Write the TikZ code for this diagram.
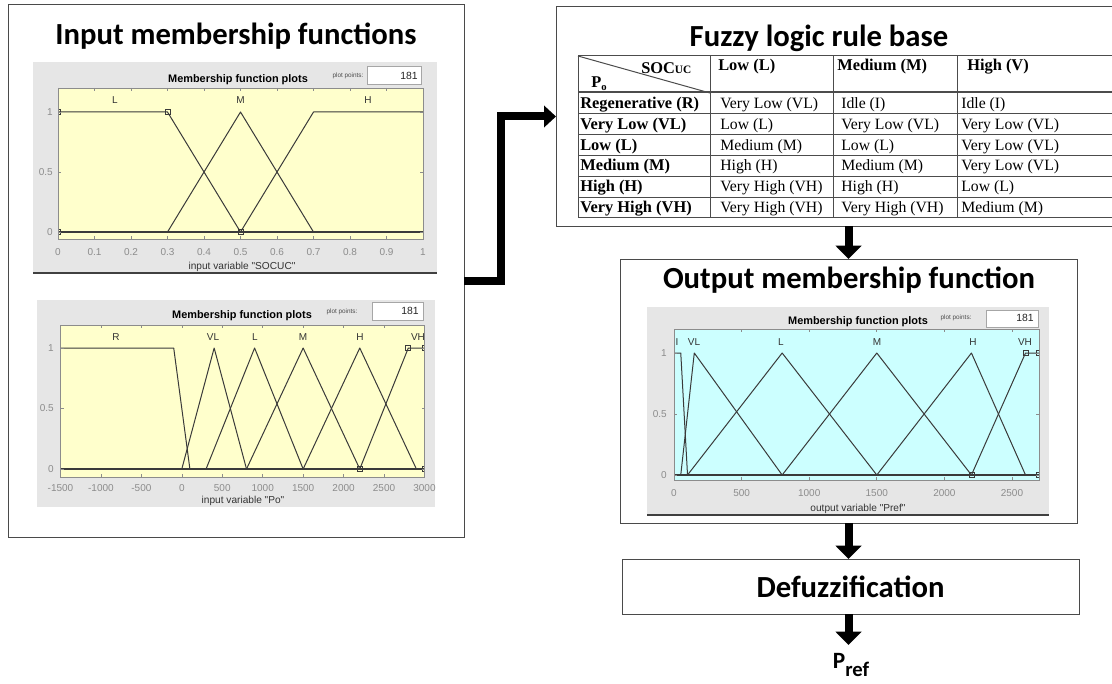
\documentclass[tikz,border=0pt]{standalone}
\usepackage{fontspec}
\setmainfont{Liberation Serif}
\newfontfamily\calib{Carlito}
\newfontfamily\mlab{Liberation Sans}
\usetikzlibrary{arrows.meta}
\definecolor{panelgrey}{HTML}{E6E6E6}
\definecolor{plotyel}{HTML}{FFFFCC}
\definecolor{plotcyan}{HTML}{CCFFFF}
\definecolor{mfline}{HTML}{3A3A3A}
\definecolor{ticklab}{HTML}{8C8C8C}
\definecolor{boxline}{HTML}{4A4A4A}
\tikzset{
 bigbox/.style={draw=boxline, line width=0.75pt, inner sep=0, outer sep=0},
 ttl/.style={font=\calib\bfseries\fontsize{23}{27}\selectfont, anchor=base, inner sep=0},
 mlttl/.style={font=\mlab\bfseries\fontsize{8.2}{9}\selectfont, inner sep=0, anchor=mid},
 mlpp/.style={font=\mlab\fontsize{4.8}{5.5}\selectfont, text=black!70, inner sep=0, anchor=mid},
 mlnum/.style={font=\mlab\fontsize{7.8}{9}\selectfont, text=black!85, inner sep=0, anchor=mid east},
 ppbox/.style={fill=white, draw=black!35, line width=0.5pt},
 ticklb/.style={font=\mlab\fontsize{7.5}{9}\selectfont, text=ticklab, inner sep=0, anchor=mid},
 ylb/.style={ticklb, anchor=mid east},
 axlb/.style={font=\mlab\fontsize{7.6}{9}\selectfont, text=black!80, inner sep=0, anchor=mid},
 mflb/.style={font=\mlab\fontsize{7.5}{9}\selectfont, text=black!80, inner sep=0, anchor=mid},
 mf/.style={draw=mfline, line width=0.75pt, line join=round},
 mfbase/.style={draw=mfline, line width=1.3pt},
 mk/.style={draw=mfline, line width=0.6pt, minimum size=3.8pt, inner sep=0, outer sep=0},
 axbox/.style={draw=black!45, line width=0.5pt},
 tk/.style={draw=black!45, line width=0.5pt},
 tabline/.style={draw=black!70, line width=0.75pt},
 rowhd/.style={font=\bfseries\fontsize{12.3}{14}\selectfont, anchor=base west, inner sep=0},
 cell/.style={font=\fontsize{11.8}{14}\selectfont, anchor=base west, inner sep=0},
 elbow/.style={line width=6pt, line join=miter, -{Triangle[length=9pt,width=16pt]}},
 varrow/.style={line width=6pt, -{Triangle[length=10pt,width=19pt]}},
}
\begin{document}
\begin{tikzpicture}[x=0.75pt,y=-0.75pt]
\useasboundingbox (0,0) rectangle (1112,684);
\fill[white] (0,0) rectangle (1112,684);

% ---------- main boxes ----------
\node[bigbox, minimum width=342pt, minimum height=399pt] (inbox) at (236,271) {};
\node[bigbox, minimum width=419.25pt, minimum height=164.25pt] (rulebox) at (835.5,116.5) {};
\node[bigbox, minimum width=342.75pt, minimum height=198pt] (outbox) at (848.5,391) {};
\node[bigbox, minimum width=342.75pt, minimum height=41.25pt, font=\calib\bfseries\fontsize{23}{27}\selectfont] (defuzz) at (850.5,586.5) {Defuzzification};
\node[inner sep=0, anchor=base, font=\calib\bfseries\fontsize{17.5}{21}\selectfont] (pref) at (851,668) {P\raisebox{-6.5pt}{\fontsize{15.5}{18}\selectfont ref}};

\node[ttl] (tin) at (236,45) {Input membership functions};
\node[ttl] (trule) at (819,47) {Fuzzy logic rule base};
\node[ttl] (tout) at (849,288) {Output membership function};

% ---------- connectors ----------
\draw[elbow] ([yshift=-7.5pt]inbox.east) -- ++(37,0) |- (rulebox.west);
\draw[varrow] (outbox.north |- rulebox.south) -- (outbox.north);
\draw[varrow] (outbox.south) -- (outbox.south |- defuzz.north);
\draw[varrow] (outbox.south |- defuzz.south) -- (outbox.south |- 0,645);

% ---------- top input plot (SOCUC) ----------
\fill[panelgrey] (33,62) rectangle (437,273);
\draw[black!75, line width=0.9pt] (33,273) -- (437,273);
\fill[plotyel] (58,88) rectangle (423,239);
\begin{scope}
\clip (58,88) rectangle (423,239);
\begin{scope}[shift={(58,232)}, x=273.75pt, y=90pt]
\draw[mfbase] (0,0) -- (1,0);
\draw[mf] (0,1) -- (0.3,1) -- (0.5,0);
\draw[mf] (0.3,0) -- (0.5,1) -- (0.7,0);
\draw[mf] (0.5,0) -- (0.7,1) -- (1,1);
\node[mk] (a1) at (0,1) {};
\node[mk] (a2) at (0.3,1) {};
\node[mk] (a3) at (0,0) {};
\node[mk] (a4) at (0.5,0) {};
\end{scope}
\end{scope}
\draw[axbox] (58,88) rectangle (423,239);
\foreach \i in {0,...,10} {
 \draw[tk] ({58+36.5*\i},88) -- ++(0,3);
 \draw[tk] ({58+36.5*\i},239) -- ++(0,-3);
}
\foreach \yy in {232,172,112} { \draw[tk] (58,\yy) -- ++(3,0); \draw[tk] (423,\yy) -- ++(-3,0); }
\foreach \l [count=\i from 0] in {0,0.1,0.2,0.3,0.4,0.5,0.6,0.7,0.8,0.9,1}
 \node[ticklb] (ax\i) at ({58+36.5*\i},252) {\l};
\node[ylb] (ay0) at (53,232) {0};
\node[ylb] (ay1) at (53,172) {0.5};
\node[ylb] (ay2) at (53,112) {1};
\node[mlttl] (at) at (238,79) {Membership function plots};
\node[mlpp] (app) at (348,74) {plot points:};
\fill[ppbox] (367,66) rectangle (421,84);
\node[mlnum] (an) at (418,76) {181};
\node[axlb] (al) at (242,266) {input variable "SOCUC"};
\node[mflb] (mL) at (115,100) {L};
\node[mflb] (mM) at (240.5,100) {M};
\node[mflb] (mH) at (368,100) {H};

% ---------- bottom input plot (Po) ----------
\fill[panelgrey] (37,300) rectangle (435,507);
\fill[plotyel] (60.5,325) rectangle (424.5,477);
\begin{scope}
\clip (60.5,325) rectangle (424.5,477);
\begin{scope}[shift={(181.8,469)}, x=0.060667pt, y=90.75pt]
\draw[mfbase] (-1500,0) -- (3000,0);
\draw[mf] (-1500,1) -- (-100,1) -- (100,0);
\draw[mf] (0,0) -- (400,1) -- (800,0);
\draw[mf] (300,0) -- (900,1) -- (1500,0);
\draw[mf] (800,0) -- (1500,1) -- (2200,0);
\draw[mf] (1500,0) -- (2200,1) -- (2900,0);
\draw[mf] (2200,0) -- (2800,1) -- (3000,1);
\node[mk] (b1) at (2200,0) {};
\node[mk] (b2) at (2800,1) {};
\node[mk] (b3) at (3000,1) {};
\node[mk] (b4) at (3000,0) {};
\end{scope}
\end{scope}
\draw[axbox] (60.5,325) rectangle (424.5,477);
\foreach \i in {0,...,9} {
 \draw[tk] ({60.5+40.444*\i},325) -- ++(0,3);
 \draw[tk] ({60.5+40.444*\i},477) -- ++(0,-3);
}
\foreach \yy in {469,408.5,348} { \draw[tk] (60.5,\yy) -- ++(3,0); \draw[tk] (424.5,\yy) -- ++(-3,0); }
\foreach \l [count=\i from 0] in {-1500,-1000,-500,0,500,1000,1500,2000,2500,3000}
 \node[ticklb] (bx\i) at ({60.5+40.444*\i},488) {\l};
\node[ylb] (by0) at (54,469) {0};
\node[ylb] (by1) at (54,408.5) {0.5};
\node[ylb] (by2) at (54,348) {1};
\node[mlttl] (bt) at (242,315) {Membership function plots};
\node[mlpp] (bpp) at (342,310) {plot points:};
\fill[ppbox] (372,302) rectangle (423,320);
\node[mlnum] (bn) at (419,311.5) {181};
\node[axlb] (bl) at (243,500) {input variable "Po"};
\node[mflb] (nR) at (116,337) {R};
\node[mflb] (nVL) at (213,337) {VL};
\node[mflb] (nL) at (255,337) {L};
\node[mflb] (nM) at (303,337) {M};
\node[mflb] (nH) at (360,337) {H};
\node[mflb] (nVH) at (418,337) {VH};

% ---------- output plot (Pref) ----------
\fill[panelgrey] (647,307) rectangle (1049,515);
\draw[black!75, line width=0.9pt] (647,515) -- (1049,515);
\fill[plotcyan] (674,329) rectangle (1039,480);
\begin{scope}
\clip (674,329) rectangle (1039,480);
\begin{scope}[shift={(674,475)}, x=0.10139pt, y=91.5pt]
\draw[mfbase] (0,0) -- (2700,0);
\draw[mf] (0,1) -- (50,1) -- (100,0);
\draw[mf] (50,0) -- (150,1) -- (800,0);
\draw[mf] (100,0) -- (800,1) -- (1500,0);
\draw[mf] (800,0) -- (1500,1) -- (2200,0);
\draw[mf] (1500,0) -- (2200,1) -- (2600,0);
\draw[mf] (2200,0) -- (2600,1) -- (2700,1);
\node[mk] (c1) at (2200,0) {};
\node[mk] (c2) at (2600,1) {};
\node[mk] (c3) at (2700,1) {};
\node[mk] (c4) at (2700,0) {};
\end{scope}
\end{scope}
\draw[axbox] (674,329) rectangle (1039,480);
\foreach \i in {0,...,5} {
 \draw[tk] ({674+67.59*\i},329) -- ++(0,3);
 \draw[tk] ({674+67.59*\i},480) -- ++(0,-3);
}
\foreach \yy in {475,414,353} { \draw[tk] (674,\yy) -- ++(3,0); \draw[tk] (1039,\yy) -- ++(-3,0); }
\foreach \l [count=\i from 0] in {0,500,1000,1500,2000,2500}
 \node[ticklb] (cx\i) at ({674+67.59*\i},493) {\l};
\node[ylb] (cy0) at (667,475) {0};
\node[ylb] (cy1) at (667,414) {0.5};
\node[ylb] (cy2) at (667,353) {1};
\node[mlttl] (ct) at (858,321) {Membership function plots};
\node[mlpp] (cpp) at (956,316) {plot points:};
\fill[ppbox] (986,310) rectangle (1038,327);
\node[mlnum] (cn) at (1034,318.5) {181};
\node[axlb] (cl) at (858,508) {output variable "Pref"};
\node[mflb] (oI) at (677,342) {I};
\node[mflb] (oVL) at (694,342) {VL};
\node[mflb] (oL) at (781,342) {L};
\node[mflb] (oM) at (877,342) {M};
\node[mflb] (oH) at (973,342) {H};
\node[mflb] (oVH) at (1025,342) {VH};

% ---------- rule table ----------
\draw[tabline] (1120,56) -- (578,56) -- (578,218) -- (1120,218);
\draw[tabline] (578,93) -- (1120,93);
\draw[tabline] (578,92) -- (1120,92);
\foreach \k in {1,...,5} \draw[tabline] (578,{93+20.83*\k}) -- (1120,{93+20.83*\k});
\foreach \xx in {710,833,957} \draw[tabline] (\xx,56) -- (\xx,218);
\draw[tabline] (578,56) -- (710,93);
\node[rowhd] (hsoc) at (641,74) {SOC{\fontsize{8.5}{10}\selectfont UC}};
\node[rowhd] (hpo) at (591,88) {P\raisebox{-0.3ex}{\fontsize{8}{9}\selectfont o}};
\node[rowhd] (hc1) at (718,71) {Low (L)};
\node[rowhd] (hc2) at (837,71) {Medium (M)};
\node[rowhd] (hc3) at (967,71) {High (V)};
\foreach \a/\b/\c/\d [count=\k from 0] in {
 {Regenerative (R)}/{Very Low (VL)}/{Idle (I)}/{Idle (I)},
 {Very Low (VL)}/{Low (L)}/{Very Low (VL)}/{Very Low (VL)},
 {Low (L)}/{Medium (M)}/{Low (L)}/{Very Low (VL)},
 {Medium (M)}/{High (H)}/{Medium (M)}/{Very Low (VL)},
 {High (H)}/{Very High (VH)}/{High (H)}/{Low (L)},
 {Very High (VH)}/{Very High (VH)}/{Very High (VH)}/{Medium (M)}}
{
 \node[rowhd] (ra\k) at (580,{108.5+20.83*\k}) {\a};
 \node[cell] (rb\k) at (720,{108.5+20.83*\k}) {\b};
 \node[cell] (rc\k) at (841,{108.5+20.83*\k}) {\c};
 \node[cell] (rd\k) at (961,{108.5+20.83*\k}) {\d};
}
\end{tikzpicture}
\end{document}
